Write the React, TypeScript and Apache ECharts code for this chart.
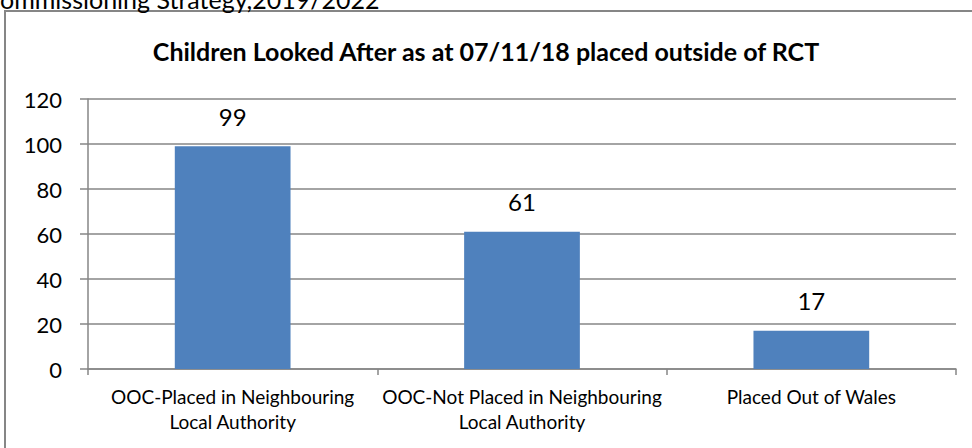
import React, { useEffect, useRef } from "react";
import * as echarts from "echarts";

const categories = [
  "OOC-Placed in Neighbouring\nLocal Authority",
  "OOC-Not Placed in Neighbouring\nLocal Authority",
  "Placed Out of Wales",
];
const values = [99, 61, 17];
const titleText = "Children Looked After as at 07/11/18 placed outside of RCT";
const headerText = "ommissioning Strategy,2019/2022";
const yMin = 0;
const yMax = 120;
const yStep = 20;

const FONT = "Lato, 'Open Sans', sans-serif";
const GRAY = "#868686";

export default function App() {
  const ref = useRef<HTMLDivElement>(null);
  useEffect(() => {
    if (!ref.current) return;
    const chart = echarts.init(ref.current, undefined, { renderer: "svg" });
    chart.setOption({
      animation: false,
      backgroundColor: "#ffffff",
      title: {
        text: titleText,
        left: "center",
        top: 33,
        textStyle: { fontFamily: FONT, fontWeight: "bold", fontSize: 25, color: "#000" },
      },
      graphic: [
        {
          type: "rect",
          shape: { x: 5, y: 11, width: 1000, height: 500 },
          style: { fill: "none", stroke: GRAY, lineWidth: 2 },
          silent: true,
        },
        {
          type: "text",
          x: 0,
          y: -14,
          style: {
            text: headerText,
            fontFamily: FONT,
            fontSize: 25,
            fill: "#000",
            verticalAlign: "top",
          },
          silent: true,
        },
      ],
      grid: { left: 88, right: 16, top: 99, bottom: 79, containLabel: false },
      xAxis: {
        type: "category",
        data: categories,
        axisLine: { show: true, lineStyle: { color: GRAY, width: 1.5 } },
        axisTick: { show: true, length: 6, lineStyle: { color: GRAY, width: 1.5 } },
        axisLabel: {
          fontFamily: FONT,
          fontSize: 19,
          color: "#000",
          margin: 15,
          lineHeight: 25,
          interval: 0,
        },
        splitLine: { show: false },
      },
      yAxis: {
        type: "value",
        min: yMin,
        max: yMax,
        interval: yStep,
        axisLine: { show: true, lineStyle: { color: GRAY, width: 1.5 } },
        axisTick: { show: true, length: 8, lineStyle: { color: GRAY, width: 1.5 } },
        axisLabel: { fontFamily: FONT, fontSize: 22, color: "#000", margin: 26 },
        splitLine: { show: true, lineStyle: { color: GRAY, width: 1.5 } },
      },
      series: [
        {
          type: "bar",
          data: values,
          barWidth: "40%",
          itemStyle: { color: "#4F81BD" },
          label: {
            show: true,
            position: "top",
            distance: 18,
            fontFamily: FONT,
            fontSize: 24,
            color: "#000",
          },
        },
      ],
    });
    return () => chart.dispose();
  }, []);
  return (
    <div
      ref={ref}
      style={{ position: "fixed", left: 0, top: 0, width: 972, height: 448 }}
    />
  );
}
